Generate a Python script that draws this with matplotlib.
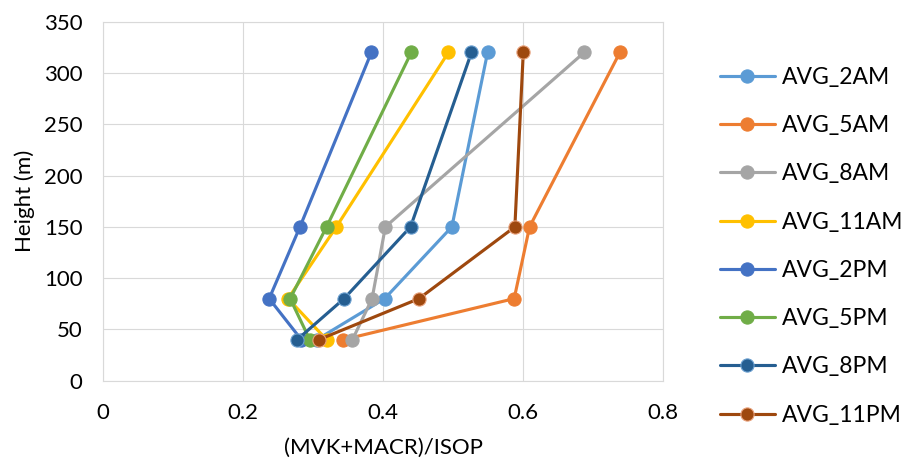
import matplotlib
matplotlib.use("Agg")
import matplotlib.pyplot as plt

plt.rcParams['font.family'] = ['Lato', 'DejaVu Sans']

# Sampling heights (m)
heights = [40, 80, 150, 320]

# (MVK+MACR)/ISOP ratio per time-of-day average, ordered by height
avg_2am = [0.305, 0.402, 0.498, 0.549]
avg_5am = [0.343, 0.587, 0.609, 0.738]
avg_8am = [0.356, 0.384, 0.403, 0.687]
avg_11am = [0.319, 0.264, 0.333, 0.493]
avg_2pm = [0.283, 0.237, 0.281, 0.383]
avg_5pm = [0.295, 0.267, 0.319, 0.440]
avg_8pm = [0.277, 0.344, 0.439, 0.526]
avg_11pm = [0.308, 0.451, 0.588, 0.600]

labels = ["AVG_2AM", "AVG_5AM", "AVG_8AM", "AVG_11AM",
          "AVG_2PM", "AVG_5PM", "AVG_8PM", "AVG_11PM"]
series = [avg_2am, avg_5am, avg_8am, avg_11am,
          avg_2pm, avg_5pm, avg_8pm, avg_11pm]
colors = ["#5B9BD5", "#ED7D31", "#A5A5A5", "#FFC000",
          "#4472C4", "#70AD47", "#255E91", "#9E480E"]
edge_colors = ["#5B9BD5", "#ED7D31", "#A5A5A5", "#FFC000",
               "#4472C4", "#70AD47", "#6A9FD0", "#E8A07A"]

x_ticks = [0, 0.2, 0.4, 0.6, 0.8]
y_ticks = [0, 50, 100, 150, 200, 250, 300, 350]

fig = plt.figure(figsize=(9.05, 4.62), dpi=100)
ax = fig.add_axes([0.1141, 0.176, 0.6188, 0.777])

for vals, lab, col, ec in zip(series, labels, colors, edge_colors):
    ax.plot(vals, heights, color=col, lw=2.25, marker='o', markersize=9.5,
            markerfacecolor=col, markeredgecolor=ec, markeredgewidth=0.8,
            label=lab, solid_capstyle='round', zorder=3)

ax.set_xlim(0, 0.8)
ax.set_ylim(0, 350)
ax.set_xticks(x_ticks)
ax.set_xticklabels(["0", "0.2", "0.4", "0.6", "0.8"])
ax.set_yticks(y_ticks)
ax.grid(True, color="#D9D9D9", lw=0.8, zorder=0)
for s in ax.spines.values():
    s.set_color("#D9D9D9")
    s.set_linewidth(0.8)
ax.tick_params(axis='both', length=0, labelsize=16, colors='#000000')
ax.tick_params(axis='x', pad=16)
ax.tick_params(axis='y', pad=15)

ax.set_xlabel("(MVK+MACR)/ISOP", fontsize=16, labelpad=11)
ax.set_ylabel("Height (m)", fontsize=16, labelpad=6)

fig.legend(loc='center left', bbox_to_anchor=(0.785, 0.467), frameon=False,
           fontsize=16.5, handlelength=2.4, handletextpad=0.3,
           labelspacing=1.19, borderaxespad=0)

fig.savefig("out.png", dpi=100)
